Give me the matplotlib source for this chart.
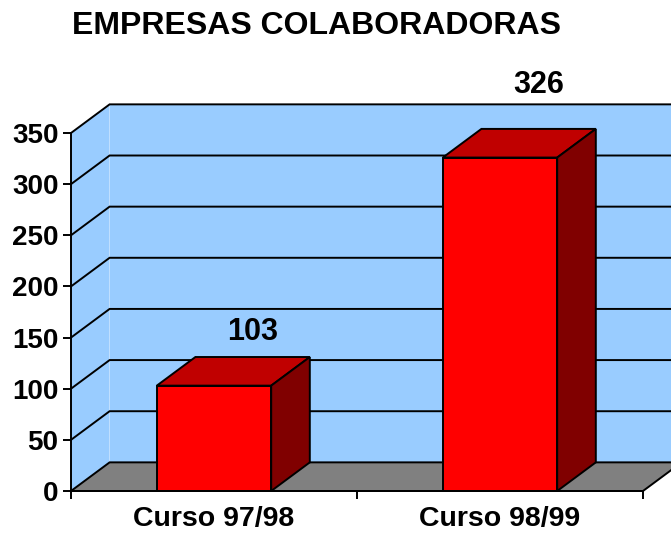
import matplotlib
matplotlib.use("Agg")
import matplotlib.pyplot as plt
from matplotlib.patches import Polygon

# values
categories = ['Curso 97/98', 'Curso 98/99']
values = [103, 326]
y_ticks = [0, 50, 100, 150, 200, 250, 300, 350]
title = 'EMPRESAS COLABORADORAS'

# pseudo-3D depth, in data units
DX = 0.135
DY = 28
BAR_W = 0.4
label_gap = [24, 43]   # space between bar top and its label
LW = 1.4

plt.rcParams['font.family'] = ['Liberation Sans', 'DejaVu Sans']
plt.rcParams['font.weight'] = 'bold'

fig = plt.figure(figsize=(6.71, 5.33), dpi=100)
ax = fig.add_axes([71/671, 42/533, 572/671, 358/533])
ax.set_xlim(0, len(categories))
ax.set_ylim(0, y_ticks[-1])
ax.patch.set_visible(False)
ymax = y_ticks[-1]
xmax = len(categories)

def poly(pts, fc, ec='none', z=1):
    p = Polygon(pts, closed=True, facecolor=fc, edgecolor=ec, lw=LW,
                joinstyle='miter', clip_on=False, zorder=z)
    ax.add_patch(p)

# walls and floor
wall = '#99CCFF'
poly([(DX, DY), (xmax + DX, DY), (xmax + DX, ymax + DY), (DX, ymax + DY)], wall, z=0)
poly([(0, 0), (DX, DY), (DX, ymax + DY), (0, ymax)], wall, z=0)
for t in y_ticks[1:]:
    ax.plot([0, DX, xmax + DX], [t, t + DY, t + DY], color='black', lw=LW,
            clip_on=False, zorder=1, solid_joinstyle='miter')
poly([(0, 0), (xmax, 0), (xmax + DX, DY), (DX, DY)], '#808080', 'black', z=2)

# bars
for i, v in enumerate(values):
    x0 = i + 0.5 - BAR_W / 2
    x1 = i + 0.5 + BAR_W / 2
    ax.bar(i + 0.5, v, width=BAR_W, color='#FF0000', edgecolor='black',
           lw=LW, zorder=3 + i, clip_on=False)
    poly([(x0, v), (x1, v), (x1 + DX, v + DY), (x0 + DX, v + DY)],
         '#C00000', 'black', z=3 + i)
    poly([(x1, 0), (x1 + DX, DY), (x1 + DX, v + DY), (x1, v)],
         '#800000', 'black', z=3 + i)
    ax.text(i + 0.5 + DX, v + DY + label_gap[i], str(v), ha='center',
            va='center', fontsize=22, fontweight='bold')

# axes
for s in ['top', 'right']:
    ax.spines[s].set_visible(False)
for s in ['left', 'bottom']:
    ax.spines[s].set_linewidth(LW)
    ax.spines[s].set_zorder(10)
ax.set_yticks(y_ticks)
ax.set_yticklabels([str(t) for t in y_ticks], fontsize=20, fontweight='bold')
ax.tick_params(axis='y', length=6, width=LW, pad=3)
ax.set_xticks(range(xmax + 1))
ax.set_xticklabels([''] * (xmax + 1))
ax.set_xticks([i + 0.5 for i in range(xmax)], minor=True)
ax.set_xticklabels(categories, minor=True, fontsize=20.5, fontweight='bold')
ax.tick_params(axis='x', which='major', length=6, width=LW)
ax.tick_params(axis='x', which='minor', length=0, pad=11)

fig.text(316/671, 1 - 26/533, title, ha='center', va='center',
         fontsize=23, fontweight='bold')

fig.savefig('out.png', dpi=100)
